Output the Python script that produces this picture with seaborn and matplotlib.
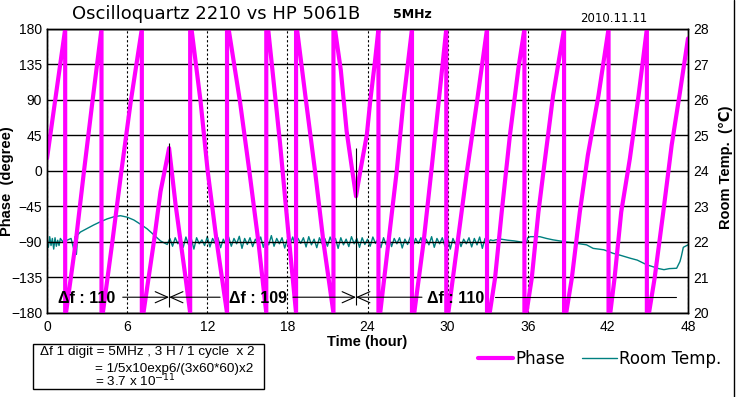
import numpy as np
import pandas as pd
import matplotlib.pyplot as plt
import seaborn as sns
from matplotlib.lines import Line2D
from matplotlib.patches import Rectangle

# Phase trace (wrapped to +-180 deg), vertices
phase_hours = [
    0.00, 1.36, 1.36,
    1.42, 2.15, 2.77, 3.40, 4.08, 4.08,
    4.18, 4.89, 5.57, 6.27, 7.10, 7.10,
    7.22, 8.00, 8.50, 8.90, 9.14,
    9.63, 10.38, 10.72, 10.72,
    10.82, 11.50, 12.03, 12.71, 13.48, 13.48,
    13.60, 14.45, 15.15, 15.83, 16.42, 16.42,
    16.56, 17.45, 18.07, 18.65, 18.65,
    18.72, 19.40, 20.07, 20.70, 21.45, 21.45,
    21.56, 22.00, 22.44, 22.82, 23.14,
    23.45, 23.95, 24.20, 24.56, 24.82, 24.82,
    24.95, 25.57, 26.19, 26.69, 27.33, 27.33,
    27.50, 28.20, 28.78, 29.33, 29.90, 29.90,
    30.05, 30.75, 31.45, 32.20, 32.95, 32.95,
    33.15, 33.55, 34.05, 34.67, 35.30, 35.75, 35.75,
    35.90, 36.30, 36.80, 37.30, 37.90, 38.72, 38.72,
    38.88, 39.30, 39.90, 40.50, 41.30, 42.05, 42.05,
    42.18, 42.50, 43.00, 43.65, 44.30, 44.92, 44.92,
    45.08, 45.50, 46.15, 46.78, 47.40, 48.00,
]
phase_deg = [
    16, 180, -180,
    -180, -90, 0, 88, 180, -180,
    -180, -90, 0, 88, 180, -180,
    -180, -90, -26, 8, 29,
    -43, -136, -180, 180,
    180, 88, 0, -90, -180, 180,
    180, 88, 0, -90, -180, 180,
    180, 35, -78, -180, 180,
    180, 88, 0, -90, -180, 180,
    180, 128, 50, 5, -32,
    -1, 46, 88, 139, 180, -180,
    -180, -90, 0, 88, 180, -180,
    -180, -90, 0, 88, 180, -180,
    -180, -90, 0, 88, 180, -180,
    -180, -136, -52, 46, 130, 180, -180,
    -180, -136, -52, 16, 96, 180, -180,
    -180, -136, -52, 20, 96, 180, -180,
    -180, -136, -52, 16, 96, 180, -180,
    -180, -136, -52, 33, 100, 168,
]

# Room temperature, first part (0 - 9.2 h)
temp_hours_start = [0.0, 0.1, 0.2, 0.3, 0.4, 0.5, 0.6, 0.7, 0.8, 0.9, 1.0, 1.2,
                    1.5, 1.8, 2.0, 2.1, 2.2, 2.3, 2.5, 3.0, 3.5, 4.0, 4.5, 5.0,
                    5.5, 6.0, 6.5, 7.0, 7.5, 8.0, 8.5, 9.0]
temp_start = [22.00, 21.85, 22.15, 21.90, 22.10, 21.80, 22.12, 21.88, 22.05, 21.90,
              22.10, 22.00, 22.05, 22.10, 21.80, 22.15, 21.65, 22.20, 22.28, 22.38,
              22.48, 22.57, 22.65, 22.71, 22.74, 22.70, 22.62, 22.50, 22.37, 22.20,
              22.03, 21.93]
# noisy middle part, one reading every 0.2 h from 9.2 h to 33.4 h
temp_noisy = [
    22.10, 21.88, 22.12, 21.95, 22.08, 21.85, 22.14, 21.92, 22.10, 21.80,
    22.12, 21.95, 22.06, 21.90, 22.15, 21.86, 22.10, 21.96, 22.12, 21.84,
    22.08, 21.92, 22.14, 21.88, 22.10, 21.95, 22.16, 21.82, 22.10, 21.93,
    22.12, 21.87, 22.08, 21.96, 22.14, 21.85, 22.10, 21.92, 22.18, 21.88,
    22.10, 21.95, 22.12, 21.83, 22.08, 21.93, 22.14, 21.88, 22.10, 21.96,
    22.12, 21.86, 22.15, 21.92, 22.08, 21.84, 22.12, 21.95, 22.10, 21.88,
    22.14, 21.94, 22.10, 21.82, 22.12, 21.92, 22.08, 21.87, 22.15, 21.95,
    22.10, 21.85, 22.12, 21.93, 22.08, 21.88, 22.14, 21.96, 22.10, 21.84,
    22.12, 21.92, 22.16, 21.87, 22.10, 21.95, 22.12, 21.83, 22.08, 21.93,
    22.14, 21.88, 22.10, 21.96, 22.12, 21.86, 22.08, 21.92, 22.15, 21.85,
    22.10, 21.95, 22.12, 21.88, 22.14, 21.80, 22.10, 21.93, 22.12, 21.87,
    22.08, 21.95, 22.12, 21.86, 22.10, 21.92, 22.14, 21.82, 22.10, 21.95,
    22.06, 22.04,
]
temp_hours_end = [33.6, 34.0, 34.5, 35.0, 35.5, 35.9, 36.0, 36.2, 36.9, 37.4,
                  37.9, 38.9, 39.7, 40.4, 40.9, 41.7, 42.4, 42.9, 43.7, 44.2,
                  44.9, 45.4, 45.7, 46.2, 46.6, 47.15, 47.4, 47.5, 47.65, 48.0]
temp_end = [22.06, 22.08, 22.05, 22.03, 22.00, 21.97, 22.12, 22.15, 22.15, 22.10,
            22.06, 22.00, 21.96, 21.92, 21.82, 21.78, 21.68, 21.63, 21.54, 21.49,
            21.36, 21.30, 21.26, 21.22, 21.25, 21.26, 21.45, 21.59, 21.85, 21.92]

x_ticks = list(range(0, 49, 6))
phase_ticks = list(range(-180, 181, 45))
temp_ticks = list(range(20, 29))

# delta-f brackets: (start, arrow centre, end) in hours, at -160 deg
brackets = [(5.67, 9.14, 12.96), (18.42, 23.14, 28.08)]
last_line = (33.55, 47.1)
marker_hours = [9.14, 23.14]
marker_low = [-172, -170]
marker_high = [36, 29]
df_labels = [(0.82, "Δf : 110"), (13.63, "Δf : 109"), (28.46, "Δf : 110")]

noisy_hours = np.linspace(9.2, 33.4, len(temp_noisy))
temp_df = pd.DataFrame({
    "hour": np.concatenate([temp_hours_start, noisy_hours, temp_hours_end]),
    "temp": temp_start + temp_noisy + temp_end,
})
phase_df = pd.DataFrame({"hour": phase_hours, "phase": phase_deg})

sns.set_theme(style="white", rc={"axes.edgecolor": "black", "xtick.color": "black",
                                 "ytick.color": "black", "text.color": "black",
                                 "axes.labelcolor": "black"})
plt.rcParams["font.family"] = ["Liberation Sans", "DejaVu Sans"]
plt.rcParams["axes.unicode_minus"] = True

fig = plt.figure(figsize=(7.37, 3.97), dpi=100)
ax = fig.add_axes([0.0638, 0.2116, 0.8697, 0.7154])
ax2 = ax.twinx()
ax.set_zorder(ax2.get_zorder() + 1)
ax.patch.set_visible(False)

sns.lineplot(data=temp_df, x="hour", y="temp", ax=ax2, color="#008080", lw=1,
             sort=False, estimator=None, legend=False)
temp_line = ax2.lines[-1]
sns.lineplot(data=phase_df, x="hour", y="phase", ax=ax, color="#ff00ff", lw=3,
             sort=False, estimator=None, legend=False)
phase_line = ax.lines[-1]

ax.set_xlim(0, 48)
ax.set_ylim(-180, 180)
ax2.set_ylim(20, 28)
ax.set_xticks(x_ticks)
ax.set_yticks(phase_ticks)
ax2.set_yticks(temp_ticks)
ax.tick_params(length=0, labelsize=10)
ax.tick_params(axis="x", pad=5)
ax.tick_params(axis="y", pad=3.5)
ax2.tick_params(axis="y", length=0, pad=3.5, labelsize=10)

ax.grid(axis="y", color="black", lw=1, ls="-")
ax.grid(axis="x", color="black", lw=0.8, ls=(0, (2, 2)))
for a in (ax, ax2):
    for sp in a.spines.values():
        sp.set_color("black")
        sp.set_linewidth(1)

ax.set_xlabel("Time (hour)", fontweight="bold", fontsize=10.5)
ax.xaxis.set_label_coords(0.5, -0.078)
ax.set_ylabel("Phase  (degree)", fontweight="bold", fontsize=10.5)
ax.yaxis.set_label_coords(-0.0515, 0.465)
ax2.set_ylabel("Room Temp.  (℃)", fontweight="bold", fontsize=10.5)
ax2.yaxis.set_label_coords(1.048, 0.512)

# delta-f annotations
arrow = dict(arrowstyle="->,head_length=0.9,head_width=0.4", color="black", lw=0.8,
             shrinkA=0, shrinkB=0, mutation_scale=10)
for start, centre, end in brackets:
    ax.annotate("", xy=(centre, -160), xytext=(start, -160), arrowprops=arrow, zorder=4)
    ax.annotate("", xy=(centre, -160), xytext=(end, -160), arrowprops=arrow, zorder=4)
ax.plot(last_line, [-160, -160], color="black", lw=0.8, zorder=4)
ax.vlines(marker_hours, marker_low, marker_high, color="black", lw=0.8, zorder=4)
for hx, txt in df_labels:
    ax.text(hx, -167, txt, fontsize=11.5, fontweight="bold", ha="left", va="baseline", zorder=5)

# titles
fig.text(216 / 737, 1 - 14 / 397, "Oscilloquartz 2210 vs HP 5061B", fontsize=13,
         family="DejaVu Sans", ha="center", va="center")
fig.text(412 / 737, 1 - 14 / 397, "5MHz", fontsize=9, fontweight="bold",
         family="DejaVu Sans", ha="center", va="center")
fig.text(614 / 737, 1 - 18 / 397, "2010.11.11", fontsize=8.5,
         family="DejaVu Sans", ha="center", va="center")

# note box
fig.add_artist(Rectangle((33 / 737, 1 - 389 / 397), 231 / 737, 45 / 397,
                         transform=fig.transFigure, fill=False, edgecolor="black", lw=1))
fig.text(40 / 737, 0.1058, "Δf 1 digit = 5MHz , 3 H / 1 cycle  x 2", fontsize=9.7, va="baseline")
fig.text(95 / 737, 0.0637, "= 1/5x10exp6/(3x60*60)x2", fontsize=9.7, va="baseline")
fig.text(95 / 737, 0.026, r"= 3.7 x 10$^{-11}$", fontsize=9.7, va="baseline")

fig.legend(handles=[phase_line, temp_line], labels=["Phase", "Room Temp."],
           loc="center left", bbox_to_anchor=(478 / 737, 1 - 359 / 397), ncol=2,
           frameon=False, prop={"family": "DejaVu Sans", "size": 12},
           handlelength=2.1, handletextpad=0.15, columnspacing=1.0,
           borderpad=0, borderaxespad=0)

fig.add_artist(Line2D([0.9953, 0.9953], [0, 1], transform=fig.transFigure,
                      color="black", lw=1))

fig.savefig("out.png", dpi=100)
